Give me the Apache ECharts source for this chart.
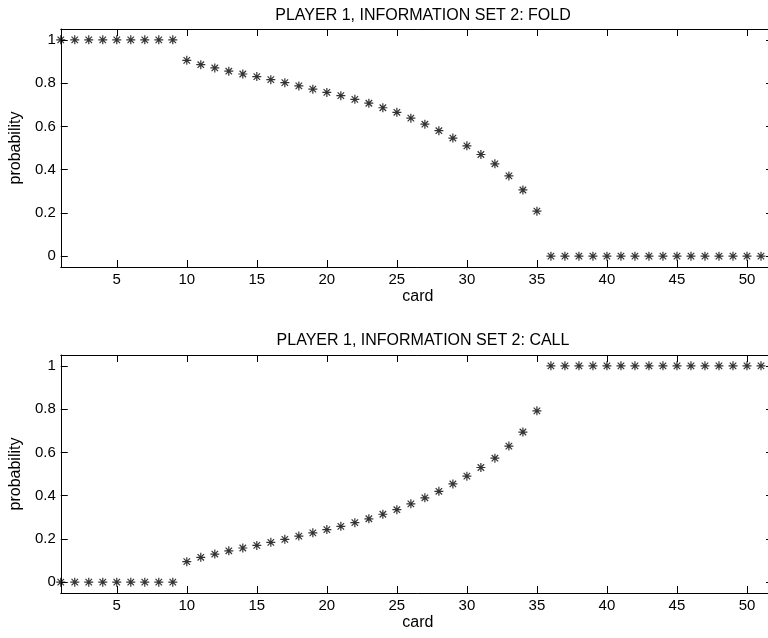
<!DOCTYPE html>
<html>
<head>
<meta charset="utf-8">
<script src="https://cdn.jsdelivr.net/npm/echarts@6/dist/echarts.min.js"></script>
<style>
html,body{margin:0;padding:0;background:#fff;overflow:hidden;}
#chart{width:790px;height:638px;}
</style>
</head>
<body>
<div id="chart"></div>
<script>
// ---- data ----
const cards = [1,2,3,4,5,6,7,8,9,10,11,12,13,14,15,16,17,18,19,20,21,22,23,24,25,26,
  27,28,29,30,31,32,33,34,35,36,37,38,39,40,41,42,43,44,45,46,47,48,49,50,51,52];
const foldProb = [1,1,1,1,1,1,1,1,1,
  0.905,0.885,0.870,0.855,0.842,0.830,0.816,0.802,0.787,0.772,0.757,0.742,0.725,0.707,0.686,
  0.665,0.638,0.610,0.580,0.546,0.510,0.470,0.427,0.371,0.306,0.208,
  0,0,0,0,0,0,0,0,0,0,0,0,0,0,0,0,0];
const callProb = [0,0,0,0,0,0,0,0,0,
  0.095,0.115,0.130,0.145,0.158,0.170,0.184,0.198,0.213,0.228,0.243,0.258,0.275,0.293,0.314,
  0.335,0.362,0.390,0.420,0.454,0.490,0.530,0.573,0.629,0.694,0.792,
  1,1,1,1,1,1,1,1,1,1,1,1,1,1,1,1,1];
const xTicks = [5,10,15,20,25,30,35,40,45,50];
const yTicks = [0,0.2,0.4,0.6,0.8,1];
const titles = ['PLAYER 1, INFORMATION SET 2: FOLD', 'PLAYER 1, INFORMATION SET 2: CALL'];
const xLabel = 'card';
const yLabel = 'probability';

// ---- chart ----
const FONT = "'Liberation Sans', Arial, sans-serif";
const FS = 15;
const FS_T = 16;
const star = 'path://M0,-1L0,1M-1,0L1,0M-0.72,-0.72L0.72,0.72M-0.72,0.72L0.72,-0.72';
const grids = [
  {left: 60, top: 29, width: 715, height: 238},
  {left: 60, top: 355, width: 715, height: 238}
];
const lineStyle = {color: '#000', width: 1};
const xAxes = [], yAxes = [];
grids.forEach((g, i) => {
  xAxes.push({
    type: 'value', gridIndex: i, position: 'bottom', min: 1, max: 52,
    name: xLabel, nameLocation: 'middle', nameGap: 22,
    nameTextStyle: {color: '#000', fontFamily: FONT, fontSize: FS_T},
    axisLine: {show: true, onZero: false, lineStyle},
    axisTick: {show: true, inside: true, length: 7, lineStyle, customValues: xTicks},
    axisLabel: {show: true, color: '#000', fontFamily: FONT, fontSize: FS, margin: 5, customValues: xTicks},
    splitLine: {show: false}
  });
  xAxes.push({
    type: 'value', gridIndex: i, position: 'top', min: 1, max: 52,
    axisLine: {show: true, onZero: false, lineStyle},
    axisTick: {show: true, inside: true, length: 7, lineStyle, customValues: xTicks},
    axisLabel: {show: false},
    splitLine: {show: false}
  });
  yAxes.push({
    type: 'value', gridIndex: i, position: 'left', min: -0.05, max: 1.05,
    name: yLabel, nameLocation: 'middle', nameGap: 28, nameRotate: 90,
    nameTextStyle: {color: '#000', fontFamily: FONT, fontSize: FS_T},
    axisLine: {show: true, onZero: false, lineStyle},
    axisTick: {show: true, inside: true, length: 7, lineStyle, customValues: yTicks},
    axisLabel: {show: true, color: '#000', fontFamily: FONT, fontSize: FS, margin: 5, customValues: yTicks},
    splitLine: {show: false}
  });
  yAxes.push({
    type: 'value', gridIndex: i, position: 'right', min: -0.05, max: 1.05,
    axisLine: {show: true, onZero: false, lineStyle},
    axisTick: {show: true, inside: true, length: 9, lineStyle, customValues: yTicks},
    axisLabel: {show: false},
    splitLine: {show: false}
  });
});

function pairs(ys) { return cards.map((c, k) => [c, ys[k]]); }

const option = {
  backgroundColor: '#fff',
  animation: false,
  title: titles.map((t, i) => ({
    text: t, left: 418, top: i === 0 ? 3 : 328, textAlign: 'center',
    textStyle: {color: '#000', fontFamily: FONT, fontSize: FS_T, fontWeight: 'normal'}
  })),
  grid: grids,
  xAxis: xAxes,
  yAxis: yAxes,
  series: [
    {type: 'scatter', xAxisIndex: 0, yAxisIndex: 0, data: pairs(foldProb),
     symbol: star, symbolSize: 9, clip: false,
     itemStyle: {color: 'rgba(0,0,0,0)', borderColor: '#000', borderWidth: 1.2}},
    {type: 'scatter', xAxisIndex: 2, yAxisIndex: 2, data: pairs(callProb),
     symbol: star, symbolSize: 9, clip: false,
     itemStyle: {color: 'rgba(0,0,0,0)', borderColor: '#000', borderWidth: 1.2}}
  ]
};
const chart = echarts.init(document.getElementById('chart'), null, {renderer: 'canvas'});
chart.setOption(option);
</script>
</body>
</html>
